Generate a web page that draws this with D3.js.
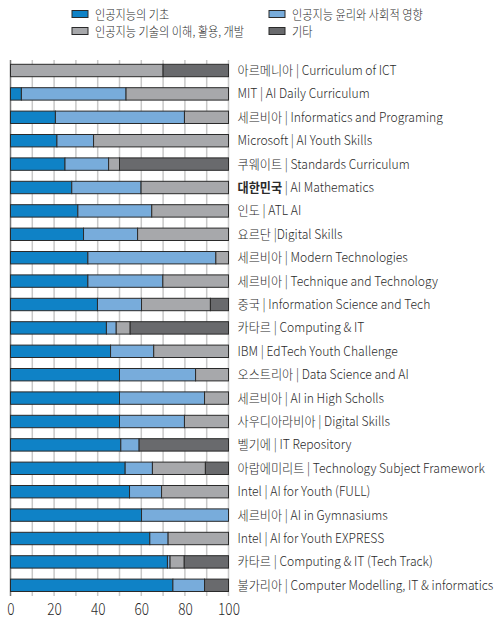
<!DOCTYPE html>
<html>
<head>
<meta charset="utf-8">
<script src="https://cdn.jsdelivr.net/npm/d3@7"></script>
<style>
  body { margin: 0; background: #fff; }
  text { font-family: "Noto Sans CJK KR", "Noto Sans", sans-serif; fill: #2a2a2a; font-weight: 300; }
</style>
</head>
<body>
<script>
// categories (top to bottom)
var categories = [
  "아르메니아 | Curriculum of ICT",
  "MIT | AI Daily Curriculum",
  "세르비아 | Informatics and Programing",
  "Microsoft | AI Youth Skills",
  "쿠웨이트 | Standards Curriculum",
  "대한민국 | AI Mathematics",
  "인도 | ATL AI",
  "요르단 |Digital Skills",
  "세르비아 | Modern Technologies",
  "세르비아 | Technique and Technology",
  "중국 | Information Science and Tech",
  "카타르 | Computing & IT",
  "IBM | EdTech Youth Challenge",
  "오스트리아 | Data Science and AI",
  "세르비아 | AI in High Scholls",
  "사우디아라비아 | Digital Skills",
  "벨기에 | IT Repository",
  "아랍에미리트 | Technology Subject Framework",
  "Intel | AI for Youth (FULL)",
  "세르비아 | AI in Gymnasiums",
  "Intel | AI for Youth EXPRESS",
  "카타르 | Computing & IT (Tech Track)",
  "불가리아 | Computer Modelling, IT & informatics"
];
var highlight = "대한민국";

// series values (%)
var basics = [0, 5, 20.6, 21.3, 25, 28.1, 30.9, 33.5, 35.5, 35.5, 39.9, 44, 45.9, 50, 50, 50, 50.6, 52.6, 54.6, 60.1, 63.9, 72, 74.5];
var ethics = [0, 48, 59.2, 16.8, 20, 31.8, 33.9, 24.8, 58.7, 34.4, 20.2, 4.5, 19.8, 34.9, 39, 29.8, 8.4, 12.5, 14.7, 39.9, 8.4, 1.2, 14.5];
var tech   = [70, 47, 20.2, 61.9, 5, 40.1, 35.2, 41.7, 5.8, 30.1, 31.6, 6.4, 34.3, 15.1, 11, 20.2, 0, 24.3, 30.7, 0, 27.7, 6.5, 0];
var other  = [30, 0, 0, 0, 50, 0, 0, 0, 0, 0, 8.3, 45.1, 0, 0, 0, 0, 41, 10.6, 0, 0, 0, 20.3, 11];

var seriesNames = ["인공지능의 기초", "인공지능 윤리와 사회적 영향", "인공지능 기술의 이해, 활용, 개발", "기타"];
var seriesKeys = ["basics", "ethics", "tech", "other"];
var colors = ["#0f82c6", "#78acdb", "#a7a8ab", "#696a6d"];
var xTicks = [0, 20, 40, 60, 80, 100];

var w = 504, h = 618;

var rows = categories.map(function(c, i) {
  return {cat: c, basics: basics[i], ethics: ethics[i], tech: tech[i], other: other[i]};
});

var svg = d3.select("body").append("svg")
  .attr("width", w)
  .attr("height", h);

var x = d3.scaleLinear().domain([0, 100]).range([10.5, 228.5]);
var y = d3.scaleBand().domain(categories).range([58.8, 597]).paddingInner(0.47).paddingOuter(0.235);

var color = d3.scaleOrdinal().domain(seriesKeys).range(colors);

// grid lines
svg.append("g").selectAll("line")
  .data(d3.range(0, 101, 10))
  .enter().append("line")
  .attr("x1", function(d) { return x(d); })
  .attr("x2", function(d) { return x(d); })
  .attr("y1", 60)
  .attr("y2", 596)
  .attr("stroke", function(d) { return d == 0 ? "#777" : "#c8c8c8"; })
  .attr("stroke-width", 1.5);

// stacked bars
var stacked = d3.stack().keys(seriesKeys)(rows);

svg.append("g").selectAll("g")
  .data(stacked)
  .enter().append("g")
  .attr("fill", function(d) { return color(d.key); })
  .selectAll("rect")
  .data(function(d) { return d.filter(function(p) { return p[1] - p[0] > 0; }); })
  .enter().append("rect")
  .attr("x", function(d) { return x(d[0]); })
  .attr("y", function(d) { return y(d.data.cat); })
  .attr("width", function(d) { return x(d[1]) - x(d[0]); })
  .attr("height", y.bandwidth())
  .attr("stroke", "#2a2a2a")
  .attr("stroke-width", 1);

// row labels
var labels = svg.append("g").attr("class", "labels");
categories.forEach(function(c) {
  var t = labels.append("text")
    .attr("x", 0)
    .attr("y", 0)
    .attr("dy", "0.35em")
    .attr("font-size", 13);
  var idx = c.indexOf("|");
  var head = c.slice(0, idx).trim();
  if (head == highlight) {
    t.append("tspan").style("font-weight", "bold").text(head);
    t.append("tspan").text(" " + c.slice(idx));
  } else {
    t.text(c);
  }
  t.datum(c);
});
// squeeze labels so the longest fits the space on the right
var longest = d3.max(labels.selectAll("text").nodes(), function(n) { return n.getComputedTextLength(); });
var sx = 256 / longest;
labels.selectAll("text")
  .attr("transform", function(d) {
    return "translate(237.5," + (y(d) + y.bandwidth() / 2) + ") scale(" + sx + ",1)";
  });

// x axis
var axis = svg.append("g")
  .attr("transform", "translate(0,596)")
  .call(d3.axisBottom(x).tickValues(xTicks).tickSize(0).tickPadding(0));
axis.select(".domain").remove();
axis.selectAll("text")
  .attr("font-size", 17)
  .attr("fill", "#2a2a2a")
  .attr("dy", 0)
  .attr("y", 0)
  .attr("x", 0)
  .attr("transform", "translate(0,19) scale(0.8,1)");

// legend
var legendPos = [[72, 14], [269, 14], [72, 31], [269, 31]];
var legend = svg.append("g").selectAll("g")
  .data(seriesNames)
  .enter().append("g")
  .attr("transform", function(d, i) { return "translate(" + legendPos[i][0] + "," + legendPos[i][1] + ")"; });

legend.append("rect")
  .attr("x", 0)
  .attr("y", -3.5)
  .attr("width", 16)
  .attr("height", 7)
  .attr("fill", function(d, i) { return colors[i]; })
  .attr("stroke", "#2a2a2a")
  .attr("stroke-width", 1);

legend.append("text")
  .attr("x", 0)
  .attr("dy", "0.35em")
  .attr("font-size", 13)
  .attr("transform", "translate(23,0) scale(0.86,1)")
  .text(function(d) { return d; });
</script>
</body>
</html>
